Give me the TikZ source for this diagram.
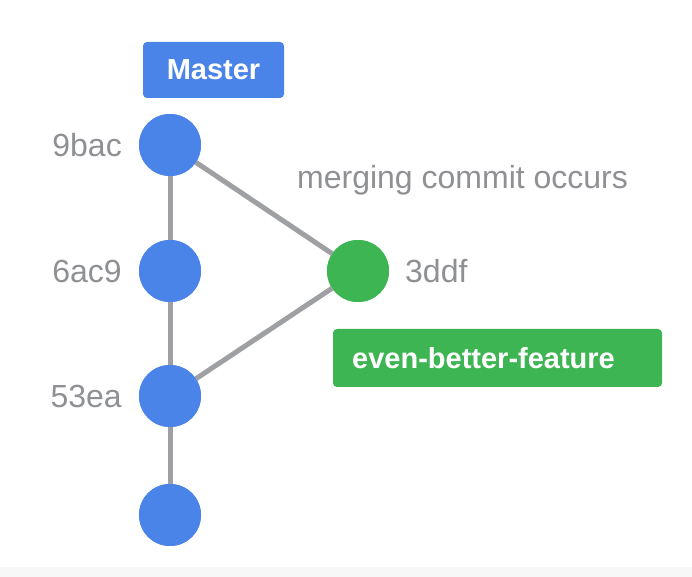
\documentclass[tikz,border=0pt]{standalone}
\usepackage{fontspec}
\setmainfont{Liberation Sans}
\definecolor{cblue}{HTML}{4A84E8}
\definecolor{cgreen}{HTML}{3DB552}
\definecolor{cgray}{HTML}{8E9094}
\definecolor{cline}{HTML}{9EA0A4}
\definecolor{cband}{HTML}{F7F7F7}
\begin{document}
\begin{tikzpicture}[x=1pt,y=1pt,
  commit/.style={circle,minimum size=62pt,inner sep=0pt},
  bcommit/.style={commit,fill=cblue},
  gcommit/.style={commit,fill=cgreen},
  lbl/.style={text=cgray,font=\fontsize{32}{38}\selectfont,inner sep=0pt},
  edge/.style={draw=cline,line width=5pt},
  tag/.style={rounded corners=4pt,text=white,font=\fontsize{29}{34}\selectfont\bfseries,inner sep=0pt}]
\useasboundingbox (0,0) rectangle (692,577);
\fill[cband] (0,0) rectangle (692,10);
% nodes
\node[bcommit] (c1) at (170,432) {};
\node[bcommit] (c2) at (170,306) {};
\node[bcommit] (c3) at (170,181) {};
\node[bcommit] (c4) at (170,62) {};
\node[gcommit] (g1) at (358,306) {};
% edges
\draw[edge] (c1) -- (c2);
\draw[edge] (c2) -- (c3);
\draw[edge] (c3) -- (c4);
\draw[edge] (c1) -- (g1);
\draw[edge] (g1) -- (c3);
% redraw nodes on top
\node[bcommit] at (c1) {};
\node[bcommit] at (c2) {};
\node[bcommit] at (c3) {};
\node[bcommit] at (c4) {};
\node[gcommit] at (g1) {};
% labels
\node[lbl,anchor=east] (l1) at (122,432) {9bac};
\node[lbl,anchor=east] (l2) at (122,306) {6ac9};
\node[lbl,anchor=east] (l3) at (122,181) {53ea};
\node[lbl,anchor=west] (l4) at (405,306) {3ddf};
\node[lbl,anchor=west] (m) at (297,397) {merging commit occurs};
% tags
\fill[cblue,rounded corners=4pt] (143,479) rectangle (284,535);
\node[tag] (master) at (213.5,507) {Master};
\fill[cgreen,rounded corners=4pt] (333,190) rectangle (662,248);
\node[tag,anchor=west] (feat) at (352,219) {even-better-feature};
\end{tikzpicture}
\end{document}
